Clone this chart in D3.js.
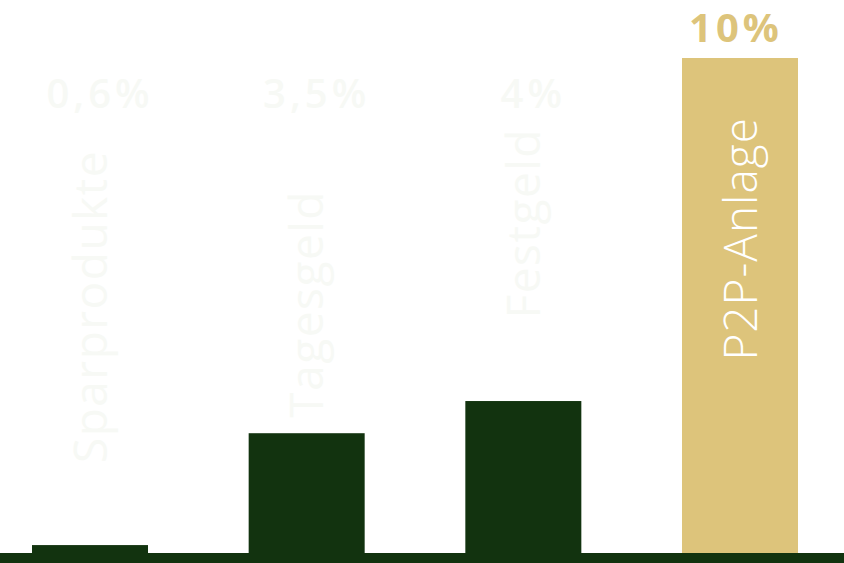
<!DOCTYPE html>
<html>
<head>
<meta charset="utf-8">
<script src="https://cdn.jsdelivr.net/npm/d3@7"></script>
<style>
	body { margin:0; background:#fff; }
	svg { display:block; }
</style>
</head>
<body>
<svg id="chart"></svg>
<script>
let _width = 844
let _height = 563

// data
let categories = ['Sparprodukte','Tagesgeld','Festgeld','P2P-Anlage']
let rateLabels = ['0,6%','3,5%','4%','10%']
// bar length, in % of the longest bar
let barLength = [1.6, 24.2, 30.7, 100]
let highlight = [false,false,false,true]

// layout: where the upper end of each rotated label sits
let catLabelTop = [150, 190, 128, 117]

let green = '#12330f'
let gold = '#ddc47b'
let ghost = '#f7f9f5'

const svg = d3.select('#chart')
	.attr('width', _width)
	.attr('height', _height)
	.attr('font-family','Open Sans')

const baseY = 553

const x = d3.scaleBand()
	.domain(categories)
	.range([32, 798])
	.paddingInner(0.4646)
	.paddingOuter(0)

const y = d3.scaleLinear()
	.domain([0, 100])
	.range([baseY, 58])

const rows = categories.map((c,i) => ({
	cat: c,
	label: rateLabels[i],
	len: barLength[i],
	hi: highlight[i],
	top: catLabelTop[i]
}))

// bars
svg.selectAll('.bar')
	.data(rows)
	.enter()
	.append('rect')
	.classed('bar',true)
	.attr('x', d => x(d.cat))
	.attr('y', d => y(d.len))
	.attr('width', x.bandwidth())
	.attr('height', d => baseY - y(d.len))
	.attr('fill', d => d.hi ? gold : green)

// ground line
svg.append('rect')
	.attr('x',0)
	.attr('y',baseY)
	.attr('width',_width)
	.attr('height',_height - baseY)
	.attr('fill',green)

// rate labels
svg.selectAll('.rate')
	.data(rows)
	.enter()
	.append('text')
	.classed('rate',true)
	.attr('x', d => x(d.cat) + x.bandwidth()/2 + (d.hi ? -4 : 10))
	.attr('y', d => d.hi ? y(d.len) - 16 : 108)
	.attr('text-anchor','middle')
	.attr('font-size',40)
	.attr('font-weight', d => d.hi ? 700 : 600)
	.attr('letter-spacing',4)
	.attr('fill', d => d.hi ? gold : ghost)
	.text(d => d.label)

// category labels, rotated
svg.selectAll('.cat')
	.data(rows)
	.enter()
	.append('text')
	.classed('cat',true)
	.attr('transform', d => `translate(${x(d.cat) + x.bandwidth()/2},${d.top}) rotate(-90)`)
	.attr('text-anchor','end')
	.attr('dy','0.36em')
	.attr('font-size',46)
	.attr('font-weight', d => d.hi ? 300 : 400)
	.attr('letter-spacing', d => d.hi ? 1 : 1.5)
	.attr('fill', d => d.hi ? '#fff' : ghost)
	.text(d => d.cat)
</script>
</body>
</html>
